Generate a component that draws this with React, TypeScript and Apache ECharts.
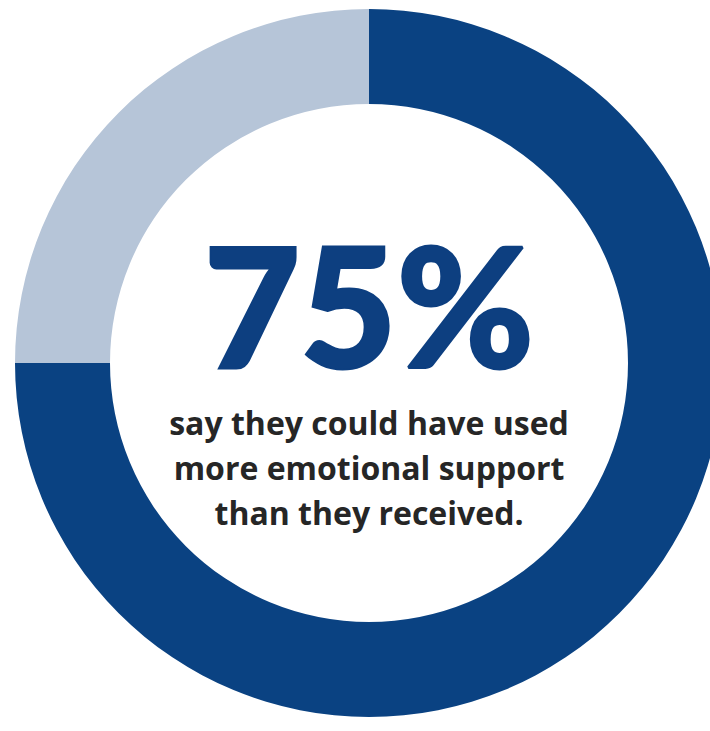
import React, { useEffect, useRef } from "react";
import * as echarts from "echarts";

const categories = ["Could have used more support", "Other"];
const values = [75, 25];
const headline = "75%";
const captionLines = [
  "say they could have used",
  "more emotional support",
  "than they received.",
];

export default function App() {
  const ref = useRef<HTMLDivElement>(null);
  useEffect(() => {
    if (!ref.current) return;
    const chart = echarts.init(ref.current, null, { renderer: "svg" });
    const colors = ["#0a4282", "#b6c5d8"];
    chart.setOption({
      animation: false,
      backgroundColor: "#ffffff",
      series: [
        {
          type: "pie",
          center: [369, 363],
          radius: [259, 354],
          startAngle: 90,
          clockwise: true,
          silent: true,
          label: { show: false },
          labelLine: { show: false },
          itemStyle: { borderWidth: 0 },
          data: categories.map((c, i) => ({
            name: c,
            value: values[i],
            itemStyle: { color: colors[i] },
          })),
        },
      ],
      graphic: [
        {
          type: "text",
          x: 369,
          y: 303,
          style: {
            text: headline,
            fill: "#0d3f80",
            font: "900 166px Lato",
            textAlign: "center",
            textVerticalAlign: "middle",
            stroke: "#0d3f80",
            lineWidth: 3,
          },
        },
        ...captionLines.map((t, i) => ({
          type: "text",
          x: 369,
          y: 422 + i * 45,
          style: {
            text: t,
            fill: "#262626",
            font: "bold 32px 'Open Sans'",
            textAlign: "center",
            textVerticalAlign: "middle",
          },
        })),
      ],
    });
    return () => chart.dispose();
  }, []);
  return (
    <div
      ref={ref}
      style={{ position: "fixed", left: 0, top: 0, width: 710, height: 731 }}
    />
  );
}
